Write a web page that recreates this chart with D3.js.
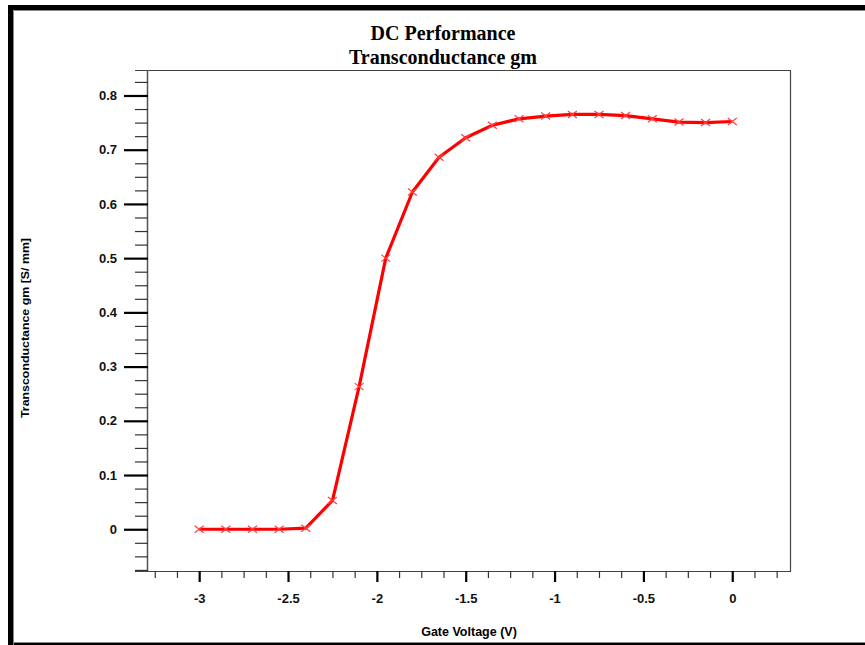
<!DOCTYPE html>
<html>
<head>
<meta charset="utf-8">
<script src="https://cdn.jsdelivr.net/npm/d3@7"></script>
<style>
  body { margin: 0; background: #fff; }
  .tick-label { font-family: "Liberation Sans", Arial, sans-serif; font-weight: bold; font-size: 13px; fill: #111; }
</style>
</head>
<body>
<div id="chart"></div>
<script>
// gate voltage sweep (V) and measured gm (S/mm)
var gateVoltage = [-3, -2.85, -2.7, -2.55, -2.4, -2.25, -2.1, -1.95, -1.8, -1.65, -1.5,
  -1.35, -1.2, -1.05, -0.9, -0.75, -0.6, -0.45, -0.3, -0.15, 0];
var gm = [0, 0, 0, 0, 0.002, 0.053, 0.263, 0.5, 0.622, 0.686, 0.722,
  0.745, 0.757, 0.762, 0.765, 0.765, 0.763, 0.757, 0.751, 0.75, 0.752];

var xTicks = [-3, -2.5, -2, -1.5, -1, -0.5, 0];
var xTickLabels = ['-3', '-2.5', '-2', '-1.5', '-1', '-0.5', '0'];
var yTicks = [0, 0.1, 0.2, 0.3, 0.4, 0.5, 0.6, 0.7, 0.8];
var yTickLabels = ['0', '0.1', '0.2', '0.3', '0.4', '0.5', '0.6', '0.7', '0.8'];

var titleLines = ['DC Performance', 'Transconductance gm'];
var xLabel = 'Gate Voltage (V)';
var yLabel = 'Transconductance gm [S/ mm]';

var W = 865, H = 645;
var margin = { top: 70, right: 75, bottom: 74, left: 148 };
var width = W - margin.left - margin.right;
var height = H - margin.top - margin.bottom;

var x = d3.scaleLinear().domain([-3.288, 0.325]).range([0, width]);
var y = d3.scaleLinear().domain([-0.077, 0.847]).range([height, 0]);

var svg = d3.select('#chart').append('svg')
  .attr('width', W)
  .attr('height', H);

// window-like frame
svg.append('rect')
  .attr('x', 10.5).attr('y', 7.5)
  .attr('width', W).attr('height', H - 7)
  .attr('fill', 'none').attr('stroke', '#000').attr('stroke-width', 5);
svg.append('path')
  .attr('d', 'M13.5,' + H + 'V10.5H' + W)
  .attr('fill', 'none').attr('stroke', '#888').attr('stroke-width', 1);
svg.append('path')
  .attr('d', 'M13,642.5H' + W)
  .attr('stroke', '#888').attr('stroke-width', 1);

// titles
svg.selectAll('.title')
  .data(titleLines).enter()
  .append('text')
  .attr('class', 'title')
  .attr('x', 443)
  .attr('y', function(d, i) { return 40 + i * 23.5; })
  .attr('text-anchor', 'middle')
  .style('font-family', '"Liberation Serif", "Times New Roman", serif')
  .style('font-weight', 'bold')
  .style('font-size', '20px')
  .text(function(d) { return d; });

var g = svg.append('g')
  .attr('transform', 'translate(' + margin.left + ',' + margin.top + ')');

// box
g.append('path')
  .attr('d', 'M-13,0.5H' + (width + 0.5) + 'V' + (height + 0.5) + 'H-13')
  .attr('fill', 'none').attr('stroke', '#444').attr('stroke-width', 1.2);
g.append('line')
  .attr('x1', -0.5).attr('x2', -0.5).attr('y1', 0).attr('y2', height + 0.5)
  .attr('stroke', '#555').attr('stroke-width', 1.5);

// y axis: major and minor ticks
var yMinor = d3.range(-0.075, 0.85, 0.025).filter(function(v) {
  return Math.abs(Math.round(v * 10) - v * 10) > 0.01;
});
var yAxis = d3.axisLeft(y).tickValues(yTicks).tickSize(24).tickPadding(7)
  .tickFormat(function(d, i) { return yTickLabels[i]; });
var yAxisMinor = d3.axisLeft(y).tickValues(yMinor).tickSize(13).tickFormat('');

g.append('g').attr('class', 'y minor').call(yAxisMinor);
g.append('g').attr('class', 'y major').call(yAxis);

// x axis
var xMinor = d3.range(-3.25, 0.3, 0.125).filter(function(v) {
  return Math.abs(Math.round(v * 2) - v * 2) > 0.01;
});
var xAxis = d3.axisBottom(x).tickValues(xTicks).tickSize(11).tickPadding(12)
  .tickFormat(function(d, i) { return xTickLabels[i]; });
var xAxisMinor = d3.axisBottom(x).tickValues(xMinor).tickSize(7).tickFormat('');

g.append('g').attr('class', 'x minor').attr('transform', 'translate(0,' + height + ')').call(xAxisMinor);
g.append('g').attr('class', 'x major').attr('transform', 'translate(0,' + height + ')').call(xAxis);

g.selectAll('.domain').remove();
g.selectAll('.minor .tick line').attr('stroke', '#333').attr('stroke-width', 1.2);
g.selectAll('.major .tick line').attr('stroke', '#000').attr('stroke-width', 2.2);
g.selectAll('.tick text').attr('class', 'tick-label');
g.selectAll('.y.major, .x.major').attr('font-family', null).attr('font-size', null);

// axis titles
svg.append('text')
  .attr('x', margin.left + width / 2)
  .attr('y', 636)
  .attr('text-anchor', 'middle')
  .style('font-family', '"Liberation Sans", Arial, sans-serif')
  .style('font-weight', 'bold')
  .style('font-size', '12.5px')
  .text(xLabel);

svg.append('text')
  .attr('transform', 'translate(29,' + 328 + ') rotate(-90)')
  .attr('text-anchor', 'middle')
  .attr('textLength', 180)
  .attr('lengthAdjust', 'spacingAndGlyphs')
  .style('font-family', '"Liberation Sans", Arial, sans-serif')
  .style('font-weight', 'bold')
  .style('font-size', '11px')
  .text(yLabel);

// data
var pts = gateVoltage.map(function(v, i) { return { v: v, gm: gm[i] }; });

var line = d3.line()
  .x(function(d) { return x(d.v); })
  .y(function(d) { return y(d.gm); });

g.append('path')
  .datum(pts)
  .attr('d', line)
  .attr('fill', 'none')
  .attr('stroke', '#ff0000')
  .attr('stroke-width', 3.2)
  .attr('stroke-linejoin', 'round');

g.selectAll('.marker')
  .data(pts).enter()
  .append('path')
  .attr('class', 'marker')
  .attr('transform', function(d) { return 'translate(' + x(d.v) + ',' + y(d.gm) + ')'; })
  .attr('d', 'M-4.5,-3.5L4.5,3.5M-4.5,3.5L4.5,-3.5')
  .attr('stroke', '#ff4040')
  .attr('stroke-width', 1.2);
</script>
</body>
</html>
